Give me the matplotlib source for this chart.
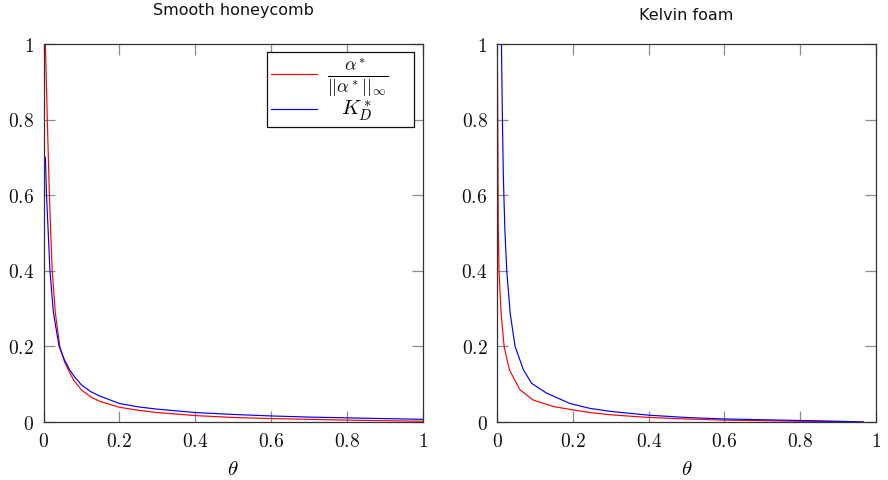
import matplotlib
matplotlib.use("Agg")
import matplotlib.pyplot as plt
from matplotlib.ticker import FixedLocator, FixedFormatter

plt.rcParams["mathtext.fontset"] = "cm"

# Smooth honeycomb: normalised alpha* (red) and K_D* (blue) against theta
hc_theta_alpha = [0.005, 0.010, 0.015, 0.019, 0.023, 0.031, 0.043, 0.055, 0.067, 0.08,
                  0.1, 0.125, 0.15, 0.2, 0.25, 0.3, 0.4, 0.5, 0.6, 0.7, 0.8, 0.9, 1.0]
hc_alpha = [1.0, 0.80, 0.62, 0.50, 0.40, 0.29, 0.20, 0.16, 0.135, 0.11,
            0.085, 0.066, 0.054, 0.039, 0.031, 0.025, 0.017, 0.012, 0.009, 0.007, 0.005, 0.0035, 0.002]
hc_theta_kd = [0.005, 0.008, 0.013, 0.017, 0.026, 0.041, 0.055, 0.069, 0.08,
               0.1, 0.125, 0.15, 0.2, 0.25, 0.3, 0.4, 0.5, 0.6, 0.7, 0.8, 0.9, 1.0]
hc_kd = [0.70, 0.60, 0.49, 0.40, 0.29, 0.20, 0.165, 0.138, 0.122,
         0.098, 0.080, 0.068, 0.049, 0.040, 0.034, 0.025, 0.020, 0.016, 0.013, 0.011, 0.009, 0.007]

# Kelvin foam
kf_theta_alpha = [0.0, 0.0015, 0.0026, 0.0045, 0.010, 0.018, 0.032, 0.060, 0.095, 0.148,
                  0.2, 0.245, 0.3, 0.4, 0.5, 0.6, 0.7, 0.8, 0.9, 0.967]
kf_alpha = [1.0, 0.75, 0.508, 0.40, 0.288, 0.20, 0.138, 0.085, 0.058, 0.041,
            0.032, 0.025, 0.019, 0.012, 0.008, 0.005, 0.0035, 0.002, 0.001, 0.0]
kf_theta_kd = [0.0, 0.011, 0.0135, 0.016, 0.02, 0.025, 0.034, 0.047, 0.069, 0.091, 0.131,
               0.192, 0.245, 0.3, 0.4, 0.5, 0.6, 0.7, 0.8, 0.9, 0.967]
kf_kd = [1.0, 1.0, 0.8, 0.65, 0.508, 0.40, 0.288, 0.20, 0.138, 0.102, 0.076,
         0.049, 0.036, 0.028, 0.018, 0.012, 0.008, 0.006, 0.004, 0.002, 0.0]

tick_values = [0, 0.2, 0.4, 0.6, 0.8, 1]
tick_labels = ["0", "0.2", "0.4", "0.6", "0.8", "1"]
titles = ["Smooth honeycomb", "Kelvin foam"]
legend_labels = [r"$\frac{\alpha^*}{||\alpha^*||_\infty}$", r"$\enspace\;K_D^*$"]

W, H = 888, 480
fig = plt.figure(figsize=(W / 100, H / 100), dpi=100)


def px_axes(x0, x1, y_top, y_bot):
    return fig.add_axes([x0 / W, 1 - y_bot / H, (x1 - x0) / W, (y_bot - y_top) / H])


ax1 = px_axes(43.5, 423, 44, 422)
ax2 = px_axes(497.3, 875.7, 44, 422)

panels = [
    (ax1, hc_theta_alpha, hc_alpha, hc_theta_kd, hc_kd),
    (ax2, kf_theta_alpha, kf_alpha, kf_theta_kd, kf_kd),
]

for ax, ta, a, tk, k in panels:
    ax.plot(ta, a, color="#ff0000", lw=0.85, label=legend_labels[0])
    ax.plot(tk, k, color="#0000ff", lw=0.85, label=legend_labels[1])
    ax.set_xlim(0, 1)
    ax.set_ylim(0, 1)
    for axis in (ax.xaxis, ax.yaxis):
        axis.set_major_locator(FixedLocator(tick_values))
        axis.set_major_formatter(FixedFormatter(["$" + t + "$" for t in tick_labels]))
    ax.tick_params(direction="in", length=8, width=0.9, color="#8c8c8c",
                   top=True, right=True, labelsize=14, pad=7, labelcolor="#111111")
    for s in ax.spines.values():
        s.set_color("#333333")
        s.set_linewidth(0.9)
    ax.set_xlabel(r"$\theta$", fontsize=15, labelpad=6)

# legend box spans a fixed width in the upper-right corner of the first panel
leg_x0 = (267 - 43.5) / 379.5
leg_x1 = (414 - 43.5) / 379.5
leg_top = (422 - 52) / 378
leg = ax1.legend(loc="upper right", bbox_to_anchor=(leg_x0, 0.5, leg_x1 - leg_x0, leg_top - 0.5),
                 mode="expand", borderaxespad=0,
                 fontsize=15, frameon=True, fancybox=False, framealpha=1,
                 edgecolor="#111111", handlelength=2.2, borderpad=0.2,
                 labelspacing=0.0, handletextpad=0.5)
leg.get_frame().set_linewidth(0.9)
leg.get_texts()[0].set_fontsize(18.5)

fig.text(233 / W, 1 - 15 / H, titles[0], ha="center", va="baseline",
         fontsize=11.5, family="DejaVu Sans", color="#111111")
fig.text(686.5 / W, 1 - 20 / H, titles[1], ha="center", va="baseline",
         fontsize=11.5, family="DejaVu Sans", color="#111111")

fig.savefig("out.png", dpi=100)
